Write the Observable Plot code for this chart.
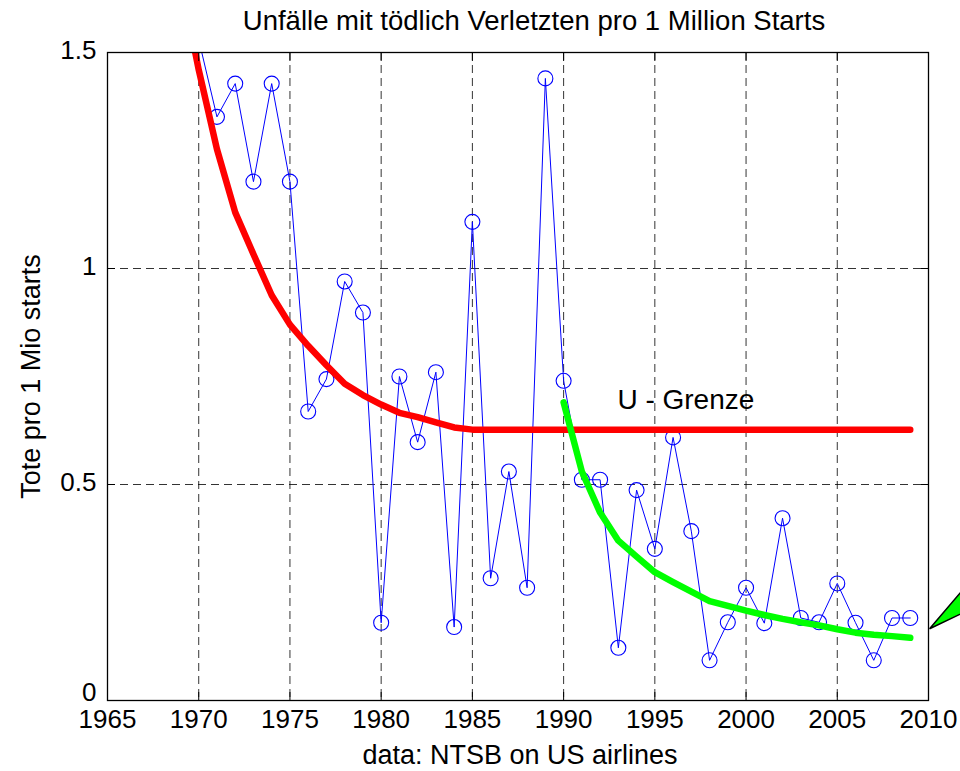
<!DOCTYPE html>
<html><head><meta charset="utf-8">
<script src="https://cdn.jsdelivr.net/npm/d3@7"></script>
<script src="https://cdn.jsdelivr.net/npm/@observablehq/plot@0.6"></script>
<style>
html,body{margin:0;padding:0;background:#fff;overflow:hidden;}
</style></head><body><div id="chart"></div>
<script>
// Observed fatal-accident rate per 1 million departures (blue circles)
const years = [1970,1971,1972,1973,1974,1975,1976,1977,1978,1979,1980,1981,1982,1983,1984,1985,1986,1987,1988,1989,
               1990,1991,1992,1993,1994,1995,1996,1997,1998,1999,2000,2001,2002,2003,2004,2005,2006,2007,2008,2009];
const rates = [1.53,1.351,1.428,1.201,1.428,1.201,0.669,0.744,0.970,0.898,0.180,0.750,0.598,0.760,0.170,1.108,0.283,0.530,0.261,1.440,
               0.740,0.511,0.511,0.122,0.487,0.351,0.609,0.392,0.093,0.181,0.261,0.179,0.422,0.191,0.181,0.271,0.180,0.093,0.191,0.191];

// Red trend with lower limit ("U - Grenze")
const trendYears = [1969,1970,1971,1972,1973,1974,1975,1976,1977,1978,1979,1980,1981,1982,1983,1984,1985,
                    1986,1987,1988,1989,1990,1991,1992,1993,1994,1995,1996,1997,1998,1999,2000,2001,2002,2003,2004,2005,2006,2007,2008,2009];
const trendValues = [1.67,1.46,1.276,1.13,1.033,0.938,0.87,0.821,0.776,0.733,0.707,0.685,0.666,0.656,0.644,0.632,0.627,
                     0.627,0.627,0.627,0.627,0.627,0.627,0.627,0.627,0.627,0.627,0.627,0.627,0.627,0.627,0.627,0.627,0.627,0.627,0.627,0.627,0.627,0.627,0.627,0.627];

// Green trend after 1990
const recentYears = [1990,1991,1992,1993,1994,1995,1996,1997,1998,1999,2000,2001,2002,2003,2004,2005,2006,2007,2008,2009];
const recentValues = [0.69,0.53,0.435,0.37,0.333,0.297,0.274,0.252,0.23,0.219,0.208,0.198,0.189,0.181,0.174,0.165,0.157,0.152,0.149,0.145];

const xTicks = [1965,1970,1975,1980,1985,1990,1995,2000,2005,2010];
const yTicks = [0,0.5,1,1.5];
const yTicksUpper = [0.5,1,1.5];
const yTickZero = [0];

const titleText = "Unfälle mit tödlich Verletzten pro 1 Million Starts";
const xLabelText = "data: NTSB on US airlines";
const yLabelText = "Tote pro 1 Mio starts";
const limitNote = [{text: "U - Grenze", year: 1996.7, value: 0.675}];
const arrowHead = [{year: 2013, value: 0.3115}, {year: 2010.06, value: 0.166}, {year: 2013, value: 0.2254}];

const observed = years.map((y, i) => ({year: y, value: rates[i]}));
const trend = trendYears.map((y, i) => ({year: y, value: trendValues[i]}));
const recent = recentYears.map((y, i) => ({year: y, value: recentValues[i]}));

const font = "'Liberation Sans', Arial, Helvetica, sans-serif";

const chart = Plot.plot({
  width: 960,
  height: 771,
  marginLeft: 107,
  marginRight: 32,
  marginTop: 52,
  marginBottom: 71,
  style: {fontFamily: font, fontSize: "26px", color: "black", background: "white", overflow: "hidden"},
  x: {domain: [1965, 2010]},
  y: {domain: [0, 1.5]},
  marks: [
    Plot.gridX(xTicks, {stroke: "#000", strokeOpacity: 0.8, strokeDasharray: "8,5"}),
    Plot.gridY(yTicks, {stroke: "#000", strokeOpacity: 0.8, strokeDasharray: "8,5"}),
    Plot.line(observed, {x: "year", y: "value", stroke: "#0000ff", strokeWidth: 1, clip: true}),
    Plot.dot(observed, {x: "year", y: "value", r: 7.5, stroke: "#0000ff", strokeWidth: 1.1, fill: "none", clip: true}),
    Plot.line(trend, {x: "year", y: "value", stroke: "#ff0000", strokeWidth: 6.5, strokeLinecap: "round", strokeLinejoin: "round", clip: true}),
    Plot.line(recent, {x: "year", y: "value", stroke: "#00ff00", strokeWidth: 6.5, strokeLinecap: "round", strokeLinejoin: "round", clip: true}),
    Plot.text(limitNote, {x: "year", y: "value", text: "text", fontSize: 28, lineAnchor: "bottom", fill: "black"}),
    Plot.line(arrowHead, {x: "year", y: "value", fill: "#00ff00", stroke: "black", strokeWidth: 1.5, strokeLinejoin: "miter"}),
    Plot.frame({stroke: "black", strokeWidth: 1.3}),
    Plot.axisX(xTicks, {anchor: "bottom", tickSize: 0, tickPadding: 9, tickFormat: d => String(d), label: null, fontSize: 26}),
    Plot.axisX(xTicks, {anchor: "bottom", tickSize: -8, tickFormat: () => "", label: null}),
    Plot.axisX(xTicks, {anchor: "top", tickSize: -8, tickFormat: () => "", label: null}),
    Plot.axisY(yTicksUpper, {anchor: "left", tickSize: 0, tickPadding: 11, tickFormat: d => String(d), label: null, fontSize: 26, dy: -2}),
    Plot.axisY(yTickZero, {anchor: "left", tickSize: 0, tickPadding: 11, tickFormat: d => String(d), label: null, fontSize: 26, dy: -8}),
    Plot.axisY(yTicks, {anchor: "left", tickSize: -8, tickFormat: () => "", label: null}),
    Plot.axisY(yTicks, {anchor: "right", tickSize: -8, tickFormat: () => "", label: null}),
    Plot.text([titleText], {frameAnchor: "top", text: d => d, dy: -31, dx: 16, fontSize: 27.5, lineAnchor: "middle"}),
    Plot.text([xLabelText], {frameAnchor: "bottom", text: d => d, dy: 55, dx: 2, fontSize: 27, lineAnchor: "middle"}),
    Plot.text([yLabelText], {frameAnchor: "left", text: d => d, dx: -76, rotate: -90, fontSize: 27, lineAnchor: "middle", textAnchor: "middle"})
  ]
});
document.getElementById("chart").appendChild(chart);
</script>
</body></html>
